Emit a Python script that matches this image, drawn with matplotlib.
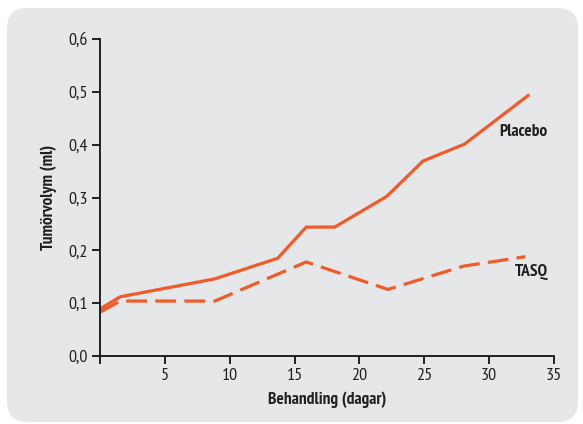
import matplotlib.pyplot as plt
from matplotlib.patches import FancyBboxPatch
from matplotlib.ticker import FuncFormatter

# days of treatment and tumour volume (ml)
placebo_days = [0, 1.55, 8.85, 13.7, 15.9, 18.1, 22.1, 24.9, 28.1, 33.0]
placebo_vol = [0.089, 0.112, 0.146, 0.185, 0.244, 0.244, 0.302, 0.369, 0.401, 0.493]

tasq_days = [0, 1.55, 8.85, 15.9, 22.2, 28.0, 32.8]
tasq_vol = [0.083, 0.104, 0.104, 0.178, 0.126, 0.170, 0.188]

x_ticks = [0, 5, 10, 15, 20, 25, 30, 35]
y_ticks = [0.0, 0.1, 0.2, 0.3, 0.4, 0.5, 0.6]

orange = "#f15a29"
dark = "#231f20"
bg = "#e6e7e8"

plt.rcParams['font.family'] = ['PT Sans Narrow', 'Fira Sans Condensed', 'Roboto Condensed',
                               'Archivo Narrow', 'DejaVu Sans']

fig = plt.figure(figsize=(5.83, 4.24), dpi=100)
fig.patch.set_facecolor("white")

# rounded grey panel behind the chart
panel = FancyBboxPatch((7 / 583, 2 / 424), 571 / 583, 414 / 424,
                       boxstyle="round,pad=0,rounding_size=0.035",
                       transform=fig.transFigure, facecolor=bg, edgecolor="none",
                       mutation_aspect=583 / 424, zorder=-10)
fig.patches.append(panel)

ax = fig.add_axes([100 / 583, 1 - 356 / 424, 454 / 583, 317 / 424])
ax.patch.set_alpha(0)

ax.plot(placebo_days, placebo_vol, color=orange, lw=2.3, solid_joinstyle="miter")
ax.plot(tasq_days, tasq_vol, color=orange, lw=2.3, dashes=(6.5, 2.6))

ax.set_xlim(0, 35)
ax.set_ylim(0, 0.6)
ax.set_xticks(x_ticks)
ax.set_yticks(y_ticks)
ax.xaxis.set_major_formatter(FuncFormatter(lambda v, p: "" if v == 0 else f"{v:.0f}"))
ax.yaxis.set_major_formatter(FuncFormatter(lambda v, p: f"{v:.1f}".replace(".", ",")))

for side in ["top", "right"]:
    ax.spines[side].set_visible(False)
for side in ["left", "bottom"]:
    ax.spines[side].set_linewidth(1.4)
    ax.spines[side].set_color(dark)
ax.tick_params(direction="out", length=6, width=1.4, color=dark,
               labelsize=13, labelcolor=dark, pad=3)

ax.set_xlabel("Behandling (dagar)", fontsize=12.5, fontweight="bold", color=dark, labelpad=5)
ax.set_ylabel("Tumörvolym (ml)", fontsize=12.5, fontweight="bold", color=dark, labelpad=8)

ax.text(32.6, 0.424, "Placebo", fontsize=12.5, fontweight="bold", color=dark,
        ha="center", va="center")
ax.text(33.3, 0.159, "TASQ", fontsize=12.5, fontweight="bold", color=dark,
        ha="center", va="center")

fig.savefig("out.png", dpi=100)
